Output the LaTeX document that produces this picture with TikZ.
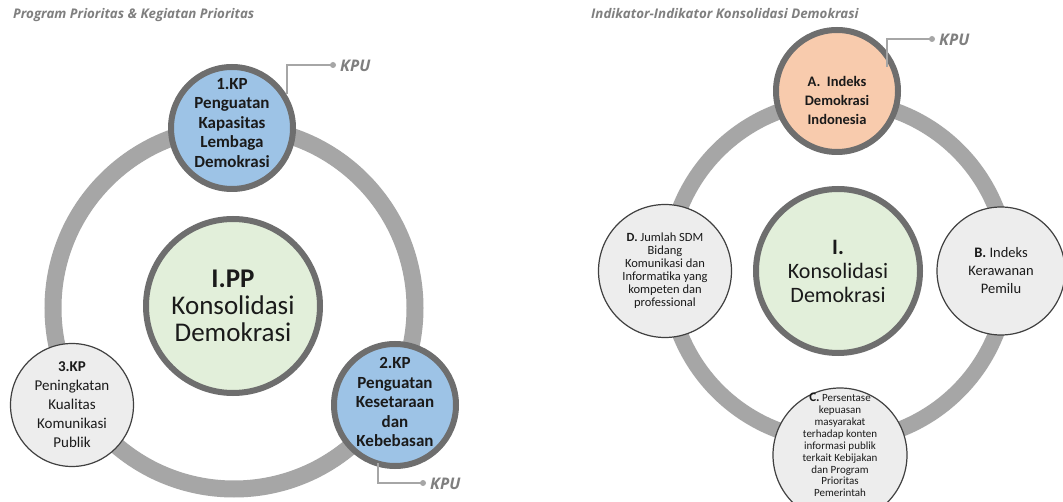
\documentclass[tikz,border=0pt]{standalone}
\usepackage{fontspec}
\setmainfont{Carlito}
\newfontfamily\titlefont{Open Sans}
\definecolor{ringgray}{HTML}{A6A6A6}
\definecolor{bordgray}{HTML}{6E6E6E}
\definecolor{kpblue}{HTML}{9DC3E6}
\definecolor{ctrgreen}{HTML}{E2EFDA}
\definecolor{salmon}{HTML}{F8CBAD}
\definecolor{lightfill}{HTML}{EDEDED}
\definecolor{titlegray}{HTML}{7F7F7F}
\definecolor{txt}{HTML}{1A1A1A}
\tikzset{
  ringline/.style={draw=ringgray, line width=17pt},
  thick node/.style={circle, draw=bordgray, line width=6pt, align=center, inner sep=0pt, text=txt},
  thin node/.style={circle, draw=black!75, line width=1.2pt, fill=lightfill, align=center, inner sep=0pt, text=txt},
  inner text/.style={align=center, inner sep=0pt, text=txt},
  titletext/.style={anchor=base west, text=titlegray, font=\titlefont\bfseries\itshape\fontsize{13.3}{15}\selectfont, inner sep=0pt},
  kputext/.style={anchor=west, text=titlegray, font=\titlefont\bfseries\itshape\fontsize{16}{18}\selectfont, inner sep=0pt},
  kpuline/.style={draw=ringgray, line width=1.6pt},
  kpudot/.style={circle, fill=ringgray, inner sep=0pt, minimum size=6pt}
}
\begin{document}
\begin{tikzpicture}[x=1pt,y=-1pt]
\useasboundingbox (0,0) rectangle (1063,502);
\clip (0,0) rectangle (1063,502);
\fill[white] (0,0) rectangle (1063,502);

% ---------------- Left diagram ----------------
\node[titletext] (t1) at (13,19) {Program Prioritas \& Kegiatan Prioritas};
\coordinate (lc) at (234,308);
\draw[ringline] (lc) circle[radius=181];

\node[thick node, fill=ctrgreen, minimum size=174pt, font=\fontsize{27}{27}\selectfont] (pp) at (233,306)
  {\textbf{I.PP}\\Konsolidasi\\Demokrasi};
\node[thick node, fill=kpblue, minimum size=122pt] (n1) at (232,128) {};
\node[inner text, font=\bfseries\fontsize{17}{19.5}\selectfont] (n1t) at (232,123)
  {1.KP\\Penguatan\\Kapasitas\\Lembaga\\Demokrasi};
\node[thick node, fill=kpblue, minimum size=122pt] (n2) at (395,405) {};
\node[inner text, font=\bfseries\fontsize{17}{19.5}\selectfont] (n2t) at (395,402)
  {2.KP\\Penguatan\\Kesetaraan\\dan\\Kebebasan};
\node[thin node, minimum size=123pt, font=\fontsize{15}{19}\selectfont] (n3) at (72,405)
  {\textbf{3.KP}\\Peningkatan\\Kualitas\\Komunikasi\\Publik};

\coordinate (k1) at (333,65);
\draw[kpuline] ([shift={(55,-34)}]n1.center) |- (k1);
\node[kpudot] (d1) at (k1) {};
\node[kputext] (kpu1) at (340,66) {KPU};

\coordinate (k2) at (423,483);
\draw[kpuline] ([shift={(-17,58)}]n2.center) |- (k2);
\node[kpudot] (d2) at (k2) {};
\node[kputext] (kpu2) at (430,484) {KPU};

% ---------------- Right diagram ----------------
\node[titletext] (t2) at (591,19) {Indikator-Indikator Konsolidasi Demokrasi};
\coordinate (rc) at (838,271);
\draw[ringline, line width=16pt] (rc) circle[radius=170];

\node[thick node, fill=ctrgreen, minimum size=164pt, font=\fontsize{22}{24}\selectfont] (kd) at (838,271)
  {\textbf{I.}\\Konsolidasi\\Demokrasi};
\node[thick node, fill=salmon, minimum size=122pt] (na) at (837,91) {};
\node[inner text, font=\bfseries\fontsize{14.5}{19}\selectfont] (nat) at (837,100)
  {A.\ \ Indeks\\Demokrasi\\Indonesia};
\node[thin node, minimum size=128pt, font=\fontsize{14.5}{18}\selectfont] (nb) at (1001,271)
  {\textbf{B.} Indeks\\Kerawanan\\Pemilu};
\node[thin node, minimum size=134pt] (nc) at (840,455) {};
\node[inner text, font=\fontsize{11}{11.9}\selectfont] (nct) at (840,445)
  {{\fontsize{13}{11.9}\selectfont\textbf{C.}} Persentase\\kepuasan\\masyarakat\\terhadap konten\\informasi publik\\terkait Kebijakan\\dan Program\\Prioritas\\Pemerintah};
\node[thin node, minimum size=133pt, font=\fontsize{12.5}{13}\selectfont] (nd) at (665,271)
  {\textbf{D.} Jumlah SDM\\Bidang\\Komunikasi dan\\Informatika yang\\kompeten dan\\professional};

\coordinate (k3) at (932,39);
\draw[kpuline] ([shift={(50,-24)}]na.center) |- (k3);
\node[kpudot] (d3) at (k3) {};
\node[kputext] (kpu3) at (939,40) {KPU};
\end{tikzpicture}
\end{document}
